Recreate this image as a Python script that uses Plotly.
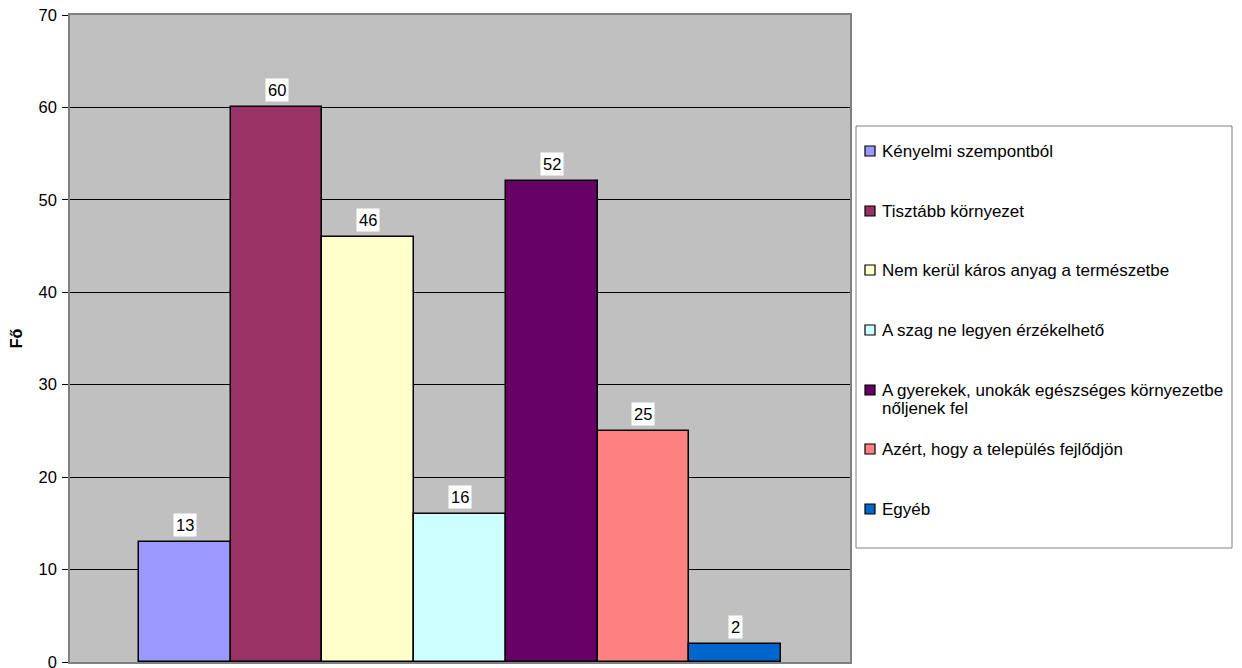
import plotly.graph_objects as go

categories = [
    "Kényelmi szempontból",
    "Tisztább környezet",
    "Nem kerül káros anyag a természetbe",
    "A szag ne legyen érzékelhető",
    "A gyerekek, unokák egészséges környezetbe\nnőljenek fel",
    "Azért, hogy a település fejlődjön",
    "Egyéb",
]
values = [13, 60, 46, 16, 52, 25, 2]
colors = ["#9999FF", "#993366", "#FFFFCC", "#CCFFFF", "#660066", "#FF8080", "#0066CC"]
y_ticks = [0, 10, 20, 30, 40, 50, 60, 70]

FONT = "Liberation Sans, Arial, sans-serif"

PLOT_L, PLOT_R, PLOT_T, PLOT_B = 70, 850, 15, 662
W, H = 1242, 668


def px(xp):
    return (xp - PLOT_L) / (PLOT_R - PLOT_L)


def py(yp):
    return (PLOT_B - yp) / (PLOT_B - PLOT_T)


fig = go.Figure()
for i, (name, v, c) in enumerate(zip(categories, values, colors)):
    fig.add_trace(go.Bar(
        x=[i], y=[v], width=1, name=name.replace("\n", " "),
        marker=dict(color=c, line=dict(color="black", width=1.5)),
        hoverinfo="skip", showlegend=False,
    ))
    fig.add_annotation(
        x=i, y=v, text=str(v), showarrow=False, yanchor="bottom", yshift=5,
        bgcolor="white", borderpad=2, font=dict(family=FONT, size=16.5, color="black"),
    )

# legend box drawn by hand to match the reference spacing
shapes = [dict(type="rect", xref="paper", yref="paper",
               x0=px(856), x1=px(1232), y0=py(548), y1=py(126),
               line=dict(color="#808080", width=1), fillcolor="white", layer="above")]
item_y = [151, 211, 270, 330, 390, 449, 509]
annotations = []
for name, c, yc in zip(categories, colors, item_y):
    shapes.append(dict(type="rect", xref="paper", yref="paper",
                       x0=px(865), x1=px(875), y0=py(yc + 5), y1=py(yc - 5),
                       line=dict(color="black", width=1.2), fillcolor=c, layer="above"))
    for k, line in enumerate(name.split("\n")):
        annotations.append(dict(
            xref="paper", yref="paper", x=px(880), y=py(yc + 18 * k),
            xanchor="left", yanchor="middle", text=line, showarrow=False,
            font=dict(family=FONT, size=17, color="black"),
        ))
for a in annotations:
    fig.add_annotation(**a)

fig.update_layout(
    width=W, height=H,
    margin=dict(l=PLOT_L, r=W - PLOT_R, t=PLOT_T, b=H - PLOT_B, autoexpand=False),
    paper_bgcolor="white", plot_bgcolor="#C0C0C0",
    font=dict(family=FONT, size=16, color="black"),
    bargap=0, barmode="overlay", showlegend=False,
    shapes=shapes,
)
fig.update_xaxes(
    range=[-1.2525, 7.2525], showticklabels=False, ticks="",
    showgrid=False, zeroline=False, showline=True, linecolor="#808080",
    linewidth=1.5, mirror=True, automargin=False,
)
fig.update_yaxes(
    range=[0, 70], tickvals=y_ticks, ticks="outside", ticklen=6,
    tickcolor="black", showgrid=True, gridcolor="black", gridwidth=1,
    zeroline=False, showline=True, linecolor="#808080", linewidth=1.5, mirror=True,
    title=dict(text="<b>Fő</b>", font=dict(family=FONT, size=16), standoff=12),
    tickfont=dict(family=FONT, size=16.5), ticklabelstandoff=2,
    ticklabeloverflow="allow", automargin=False,
)

fig.write_html(
    "out.html",
    config={"displayModeBar": False},
    post_script="document.body.style.margin='0';document.body.style.overflow='hidden';",
)
